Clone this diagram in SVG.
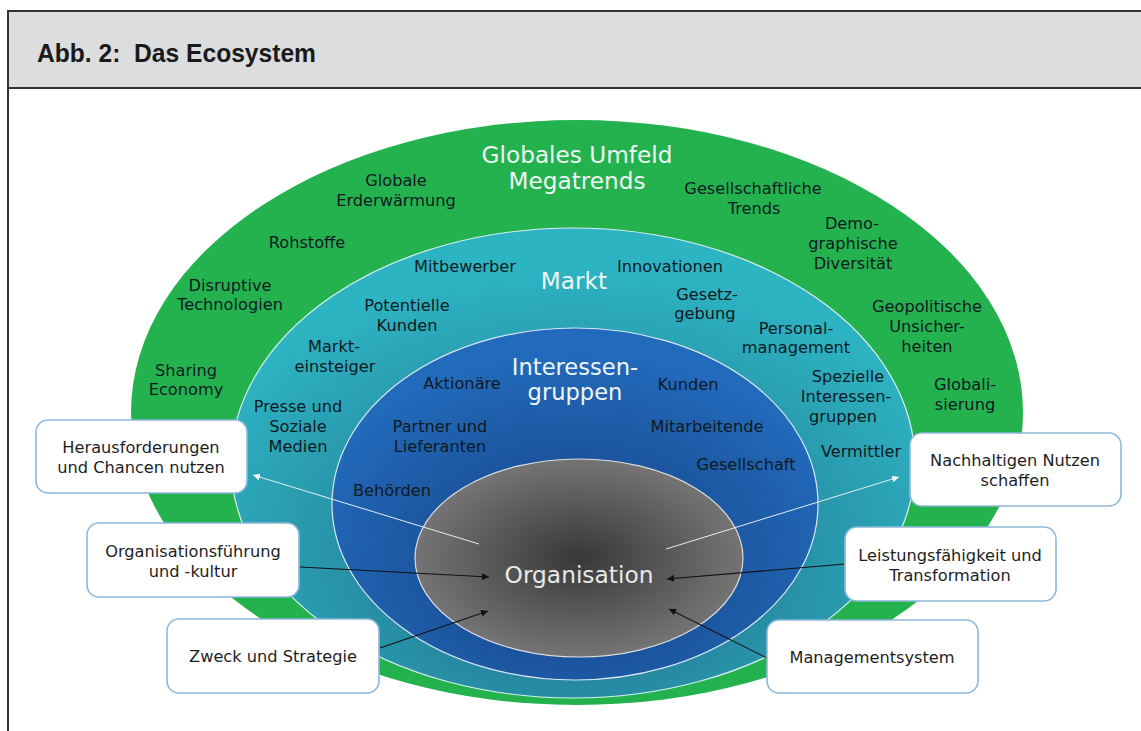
<svg xmlns="http://www.w3.org/2000/svg" width="1141" height="731" viewBox="0 0 1141 731">
<defs>
<style>
.lbl{font-family:"DejaVu Sans","Noto Sans",sans-serif;font-size:16.2px;fill:#0f1a22;text-anchor:middle}
.big{font-family:"DejaVu Sans","Noto Sans",sans-serif;font-size:23.2px;fill:#eef6f4;text-anchor:middle}
.box{fill:#ffffff;stroke:#8db8d9;stroke-width:1.6}
.btx{font-family:"DejaVu Sans","Noto Sans",sans-serif;font-size:16.2px;fill:#1e1e1e;text-anchor:middle}
.blk{stroke:#111111;stroke-width:1.1;fill:none}
.wht{stroke:#e4eef2;stroke-width:1;fill:none}
</style>
<radialGradient id="gTeal" cx="0.5" cy="0.7" r="0.62">
<stop offset="0" stop-color="#1d6486"/>
<stop offset="0.55" stop-color="#2893a8"/>
<stop offset="1" stop-color="#2db4c3"/>
</radialGradient>
<radialGradient id="gBlue" cx="0.5" cy="0.66" r="0.6">
<stop offset="0" stop-color="#153a78"/>
<stop offset="0.5" stop-color="#1c559f"/>
<stop offset="1" stop-color="#226bbc"/>
</radialGradient>
<radialGradient id="gGray" cx="0.5" cy="0.5" r="0.5">
<stop offset="0" stop-color="#383838"/>
<stop offset="1" stop-color="#747474"/>
</radialGradient>
<marker id="aB" viewBox="0 0 10 10" refX="10" refY="5" markerWidth="7" markerHeight="7" markerUnits="userSpaceOnUse" orient="auto">
<path d="M0,0 L10,5 L0,10 z" fill="#111111"/>
</marker>
<marker id="aW" viewBox="0 0 10 10" refX="10" refY="5" markerWidth="7" markerHeight="7" markerUnits="userSpaceOnUse" orient="auto">
<path d="M0,0 L10,5 L0,10 z" fill="#eef4f6"/>
</marker>
</defs>

<rect x="0" y="0" width="1141" height="731" fill="#ffffff"/>
<g id="frame">
<rect x="8" y="11" width="1140" height="77" fill="#dcdddf"/>
<line x1="8" y1="11" x2="1141" y2="11" stroke="#333333" stroke-width="2"/>
<line x1="8" y1="88" x2="1141" y2="88" stroke="#333333" stroke-width="2"/>
<line x1="8" y1="10" x2="8" y2="731" stroke="#333333" stroke-width="2"/>
<text x="37" y="62" xml:space="preserve" font-family="'Liberation Sans Narrow','Liberation Sans',sans-serif" font-weight="bold" font-size="26" fill="#1a1a1a" textLength="279" lengthAdjust="spacingAndGlyphs">Abb. 2:  Das Ecosystem</text>
</g>

<g id="globales-umfeld">
<ellipse cx="577" cy="412.5" rx="446" ry="292.5" fill="#24b24e"/>
<text class="big" x="577" y="163">Globales Umfeld<tspan x="577" dy="26">Megatrends</tspan></text>
<text class="lbl" x="396" y="186">Globale<tspan x="396" dy="20">Erderwärmung</tspan></text>
<text class="lbl" x="307" y="248">Rohstoffe</text>
<text class="lbl" x="230" y="291">Disruptive<tspan x="230" dy="19">Technologien</tspan></text>
<text class="lbl" x="186" y="376">Sharing<tspan x="186" dy="19">Economy</tspan></text>
<text class="lbl" x="753" y="194">Gesellschaftliche<tspan x="754" dy="20">Trends</tspan></text>
<text class="lbl" x="852" y="229">Demo-<tspan x="853" dy="20">graphische</tspan><tspan x="853" dy="20">Diversität</tspan></text>
<text class="lbl" x="927" y="312">Geopolitische<tspan x="927" dy="20">Unsicher-</tspan><tspan x="927" dy="20">heiten</tspan></text>
<text class="lbl" x="965" y="390">Globali-<tspan x="965" dy="20">sierung</tspan></text>
</g>

<g id="markt">
<ellipse cx="573" cy="463" rx="342" ry="235" fill="url(#gTeal)" stroke="#d8eef2" stroke-width="1.2"/>
<text class="big" x="574" y="289">Markt</text>
<text class="lbl" x="465" y="272">Mitbewerber</text>
<text class="lbl" x="670" y="272">Innovationen</text>
<text class="lbl" x="407" y="311">Potentielle<tspan x="407" dy="20">Kunden</tspan></text>
<text class="lbl" x="707" y="300">Gesetz-<tspan x="705" dy="19">gebung</tspan></text>
<text class="lbl" x="334" y="352">Markt-<tspan x="335" dy="20">einsteiger</tspan></text>
<text class="lbl" x="796" y="334">Personal-<tspan x="796" dy="19">management</tspan></text>
<text class="lbl" x="298" y="412">Presse und<tspan x="298" dy="20">Soziale</tspan><tspan x="298" dy="20">Medien</tspan></text>
<text class="lbl" x="848" y="382">Spezielle<tspan x="846" dy="20">Interessen-</tspan><tspan x="843" dy="20">gruppen</tspan></text>
<text class="lbl" x="861" y="457">Vermittler</text>
</g>

<g id="interessengruppen">
<ellipse cx="575" cy="504" rx="243" ry="176" fill="url(#gBlue)" stroke="#d8e6f4" stroke-width="1.2"/>
<text class="big" x="575" y="375" style="font-size:22.6px">Interessen-<tspan x="575" dy="25">gruppen</tspan></text>
<text class="lbl" x="462" y="389">Aktionäre</text>
<text class="lbl" x="688" y="390">Kunden</text>
<text class="lbl" x="440" y="432">Partner und<tspan x="440" dy="20">Lieferanten</tspan></text>
<text class="lbl" x="707" y="432">Mitarbeitende</text>
<text class="lbl" x="746" y="470">Gesellschaft</text>
<text class="lbl" x="392" y="496">Behörden</text>
</g>

<g id="organisation">
<ellipse cx="579" cy="558" rx="164" ry="99" fill="url(#gGray)" stroke="#dcdcdc" stroke-width="1.2"/>
<text x="579" y="583" font-family="'DejaVu Sans','Noto Sans',sans-serif" font-size="23.3" fill="#e8e8e8" text-anchor="middle">Organisation</text>
</g>

<g id="connectors">
<line class="wht" x1="479" y1="544" x2="253" y2="475" marker-end="url(#aW)"/>
<line class="wht" x1="666" y1="549" x2="899" y2="477" marker-end="url(#aW)"/>
<line class="blk" x1="300" y1="567" x2="489" y2="577" marker-end="url(#aB)"/>
<line class="blk" x1="380" y1="648" x2="488" y2="611" marker-end="url(#aB)"/>
<line class="blk" x1="845" y1="564" x2="667" y2="579" marker-end="url(#aB)"/>
<line class="blk" x1="767" y1="658" x2="669" y2="609" marker-end="url(#aB)"/>
</g>

<g id="herausforderungen">
<rect class="box" x="36" y="420" width="211" height="73" rx="12"/>
<text class="btx" x="141" y="453">Herausforderungen<tspan x="141" dy="20">und Chancen nutzen</tspan></text>
</g>
<g id="organisationsfuehrung">
<rect class="box" x="87" y="523" width="212" height="74" rx="12"/>
<text class="btx" x="193" y="557">Organisationsführung<tspan x="193" dy="20">und -kultur</tspan></text>
</g>
<g id="zweck">
<rect class="box" x="167" y="619" width="212" height="74" rx="12"/>
<text class="btx" x="273" y="662">Zweck und Strategie</text>
</g>
<g id="nachhaltigen-nutzen">
<rect class="box" x="910" y="433" width="211" height="73" rx="12"/>
<text class="btx" x="1015" y="466">Nachhaltigen Nutzen<tspan x="1015" dy="20">schaffen</tspan></text>
</g>
<g id="leistungsfaehigkeit">
<rect class="box" x="845" y="527" width="211" height="74" rx="12"/>
<text class="btx" x="950" y="561">Leistungsfähigkeit und<tspan x="950" dy="20">Transformation</tspan></text>
</g>
<g id="managementsystem">
<rect class="box" x="767" y="620" width="211" height="73" rx="12"/>
<text class="btx" x="872" y="663">Managementsystem</text>
</g>
</svg>
